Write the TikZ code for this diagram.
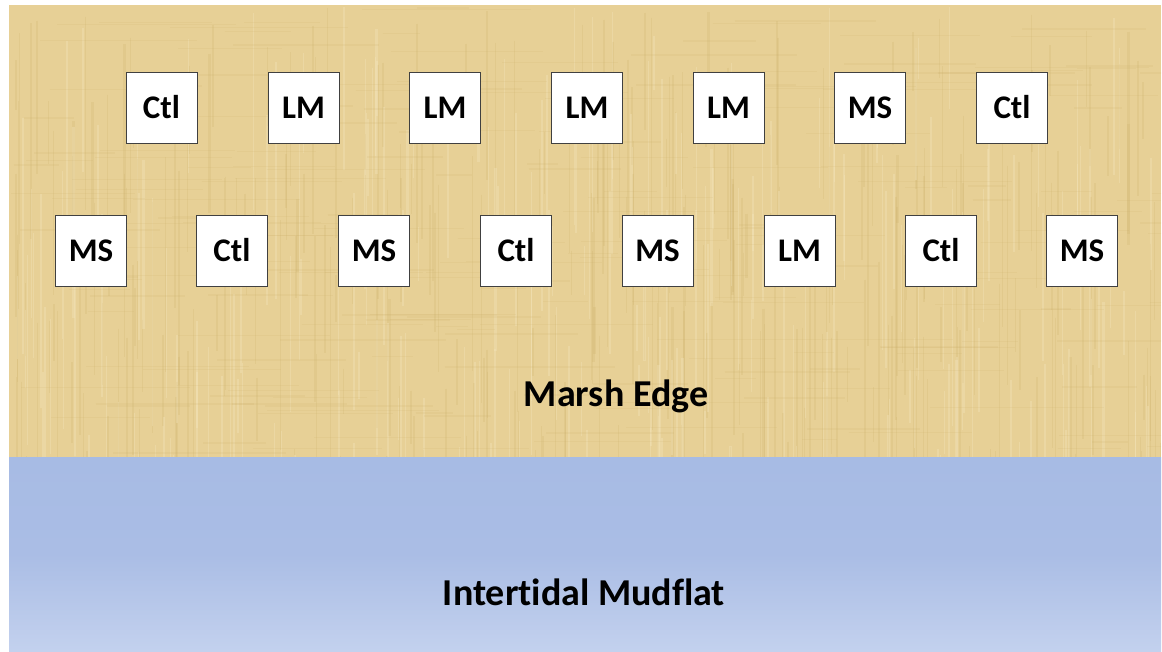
\documentclass[tikz,border=0pt]{standalone}
\usepackage{fontspec}
\setmainfont{Carlito}[Ligatures=NoCommon]
\definecolor{papyrus}{RGB}{231,208,150}
\definecolor{papyrusdark}{RGB}{200,170,100}
\definecolor{papyruslight}{RGB}{246,232,196}
\definecolor{mudtop}{RGB}{167,187,228}
\definecolor{mudmid}{RGB}{170,189,229}
\definecolor{mudbot}{RGB}{195,209,238}
\definecolor{boxline}{RGB}{64,64,64}
\begin{document}
\begin{tikzpicture}[x=1pt,y=-1pt,
  plot/.style={draw=boxline,line width=1pt,fill=white,minimum width=71pt,minimum height=71pt,inner sep=0pt,font=\fontsize{33}{39}\selectfont\bfseries},
  zonelabel/.style={anchor=base,inner sep=0pt,font=\fontsize{38}{45}\selectfont\bfseries}]
\useasboundingbox (0,0) rectangle (1162,651);
\fill[white] (0,0) rectangle (1162,651);
% marsh background
\fill[papyrus] (9,5) rectangle (1161,457);
\begin{scope}
\clip (9,5) rectangle (1161,457);
\pgfmathsetseed{42}
\foreach \i in {1,...,300}{
  \pgfmathsetmacro{\xx}{9+1152*rnd}
  \pgfmathsetmacro{\yy}{5+452*rnd}
  \pgfmathsetmacro{\ll}{40+200*rnd}
  \pgfmathsetmacro{\ww}{0.5+2*rnd}
  \draw[papyrusdark,opacity=0.18,line width=\ww pt] (\xx,\yy) -- (\xx,\yy+\ll);
}
\foreach \i in {1,...,220}{
  \pgfmathsetmacro{\xx}{9+1152*rnd}
  \pgfmathsetmacro{\yy}{5+452*rnd}
  \pgfmathsetmacro{\ll}{40+200*rnd}
  \pgfmathsetmacro{\ww}{0.5+2*rnd}
  \draw[papyruslight,opacity=0.3,line width=\ww pt] (\xx,\yy) -- (\xx,\yy+\ll);
}
\foreach \i in {1,...,220}{
  \pgfmathsetmacro{\xx}{9+1152*rnd}
  \pgfmathsetmacro{\yy}{5+452*rnd}
  \pgfmathsetmacro{\ll}{30+150*rnd}
  \pgfmathsetmacro{\ww}{0.5+1.5*rnd}
  \draw[papyrusdark,opacity=0.12,line width=\ww pt] (\xx,\yy) -- (\xx+\ll,\yy);
}
\end{scope}
% mudflat background
\shade[top color=mudtop,bottom color=mudbot,middle color=mudmid] (9,457) rectangle (1161,651);
% plots, top row
\node[plot] (t1) at (161.5,107.5) {Ctl};
\node[plot] (t2) at (303.5,107.5) {LM};
\node[plot] (t3) at (445,107.5) {LM};
\node[plot] (t4) at (587,107.5) {LM};
\node[plot] (t5) at (728.5,107.5) {LM};
\node[plot] (t6) at (870,107.5) {MS};
\node[plot] (t7) at (1012,107.5) {Ctl};
% plots, bottom row
\node[plot] (b1) at (91,250.5) {MS};
\node[plot] (b2) at (232,250.5) {Ctl};
\node[plot] (b3) at (374,250.5) {MS};
\node[plot] (b4) at (516,250.5) {Ctl};
\node[plot] (b5) at (657.5,250.5) {MS};
\node[plot] (b6) at (799.5,250.5) {LM};
\node[plot] (b7) at (941,250.5) {Ctl};
\node[plot] (b8) at (1082,250.5) {MS};
% zone labels
\node[zonelabel] (marsh) at (616,406) {Marsh Edge};
\node[zonelabel] (mud) at (584,605) {Intertidal Mudflat};
\end{tikzpicture}
\end{document}
